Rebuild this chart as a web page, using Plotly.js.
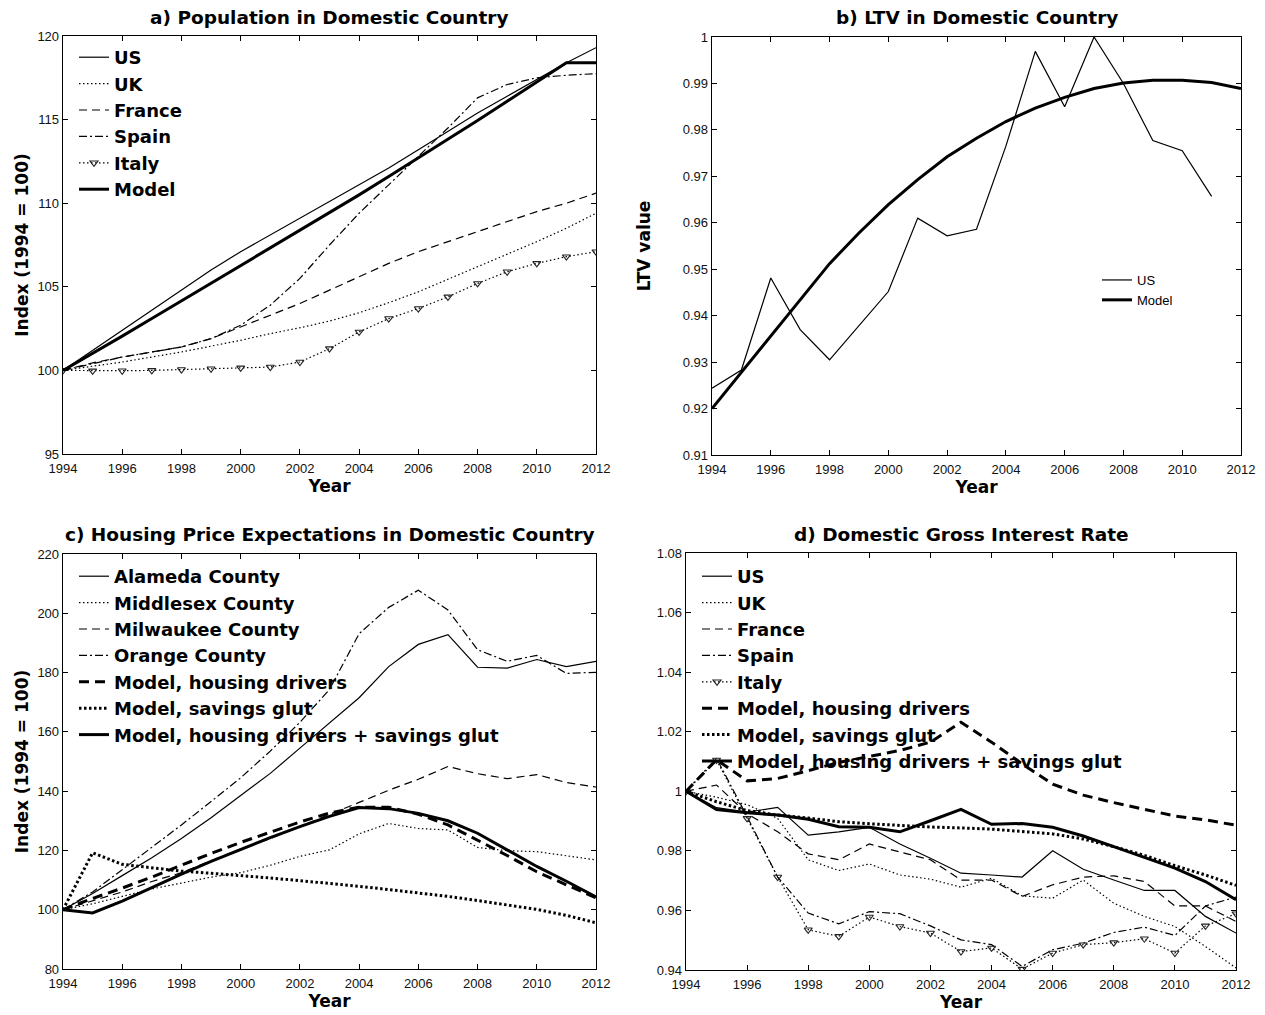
<!DOCTYPE html>
<html>
<head>
<meta charset="utf-8">
<script src="https://cdn.plot.ly/plotly-3.0.1.min.js"></script>
<style>
  html, body { margin: 0; padding: 0; background: #ffffff; }
  #chart { width: 1265px; height: 1015px; }
</style>
</head>
<body>
<div id="chart"></div>
<script>
// ---- data ----
const years = [1994, 1995, 1996, 1997, 1998, 1999, 2000, 2001, 2002, 2003,
               2004, 2005, 2006, 2007, 2008, 2009, 2010, 2011, 2012];

// a) population index (1994 = 100)
const popUS     = [100, 101.2, 102.4, 103.6, 104.8, 106.0, 107.1, 108.1, 109.1, 110.1, 111.1, 112.1, 113.2, 114.3, 115.4, 116.4, 117.4, 118.4, 119.3];
const popUK     = [100, 100.25, 100.5, 100.8, 101.1, 101.45, 101.8, 102.2, 102.55, 102.95, 103.45, 104.05, 104.7, 105.45, 106.2, 106.95, 107.7, 108.5, 109.4];
const popFrance = [100, 100.45, 100.8, 101.1, 101.4, 101.9, 102.6, 103.3, 104.0, 104.8, 105.6, 106.4, 107.1, 107.7, 108.3, 108.9, 109.5, 110.0, 110.6];
const popSpain  = [100, 100.4, 100.8, 101.1, 101.4, 101.9, 102.7, 103.9, 105.5, 107.5, 109.4, 111.1, 112.8, 114.5, 116.3, 117.1, 117.5, 117.65, 117.75];
const popItaly  = [100, 99.97, 99.98, 100.0, 100.05, 100.1, 100.15, 100.2, 100.5, 101.3, 102.3, 103.1, 103.7, 104.4, 105.2, 105.9, 106.4, 106.8, 107.1];
const popModel  = [100, 101.0, 102.05, 103.1, 104.15, 105.2, 106.25, 107.3, 108.35, 109.4, 110.5, 111.6, 112.7, 113.8, 114.95, 116.1, 117.25, 118.4, 118.4];

// b) loan-to-value
const ltvUS    = [0.9244, 0.9283, 0.9481, 0.9370, 0.9305, 0.9378, 0.9452, 0.9610, 0.9572, 0.9586, 0.9765, 0.9969, 0.9850, 1.0000, 0.9900, 0.9777, 0.9755, 0.9657];
const ltvModel = [0.9200, 0.9278, 0.9358, 0.9436, 0.9512, 0.9578, 0.9639, 0.9693, 0.9742, 0.9782, 0.9818, 0.9847, 0.9870, 0.9889, 0.9901, 0.9907, 0.9907, 0.9902, 0.9889];

// c) housing price expectations (1994 = 100)
const hpAlameda      = [100, 105.5, 111.5, 117.5, 124, 131, 138.5, 146, 154.5, 163, 171.5, 182, 189.5, 192.8, 181.8, 181.5, 184.4, 182, 183.8];
const hpMiddlesex    = [100, 102, 104.5, 107, 109, 111, 112.5, 115, 118, 120.2, 125.6, 129.1, 127.4, 126.9, 121, 119.9, 119.6, 118.2, 116.8];
const hpMilwaukee    = [100, 103, 106, 109.5, 112.5, 116.5, 120.5, 124, 128, 132, 136.2, 140.3, 144, 148.3, 145.9, 144.2, 145.6, 142.9, 141.4];
const hpOrange       = [100, 106, 113.5, 121, 128.6, 136.5, 144.5, 153.5, 163.2, 174.3, 193.1, 202, 207.8, 201.1, 187.7, 183.8, 185.8, 179.7, 180.1];
const hpModelHousing = [100, 103.8, 107.3, 111, 115, 119, 122.7, 126.2, 129.6, 132.6, 134.6, 134.6, 132.2, 128.6, 123.5, 118.3, 112.8, 108.3, 104];
const hpModelGlut    = [100, 119.2, 115.3, 114.1, 113, 112.3, 111.6, 110.7, 109.8, 108.9, 107.9, 106.8, 105.7, 104.5, 103.1, 101.7, 100.1, 98.1, 95.6];
const hpModelBoth    = [100, 98.9, 102.9, 107.5, 112, 116.3, 120.3, 124.3, 128, 131.5, 134.5, 134.1, 132.5, 130, 125.8, 120.3, 114.6, 109.6, 104.3];

// d) gross interest rate
const irUS           = [1.0, 0.9945, 0.9930, 0.9946, 0.9853, 0.9864, 0.9879, 0.9823, 0.9775, 0.9725, 0.9719, 0.9712, 0.9800, 0.9738, 0.9702, 0.9667, 0.9667, 0.9580, 0.9524];
const irUK           = [1.0, 0.9980, 0.9955, 0.9909, 0.9770, 0.9734, 0.9756, 0.9719, 0.9705, 0.9678, 0.9708, 0.9649, 0.9641, 0.9702, 0.9624, 0.9580, 0.9546, 0.9479, 0.9407];
const irFrance       = [1.0, 1.0021, 0.9925, 0.9864, 0.9790, 0.9770, 0.9823, 0.9797, 0.9770, 0.9702, 0.9702, 0.9647, 0.9686, 0.9712, 0.9716, 0.9697, 0.9615, 0.9615, 0.9563];
const irSpain        = [1.0, 1.0111, 0.9915, 0.9712, 0.9591, 0.9555, 0.9596, 0.9589, 0.9548, 0.9501, 0.9485, 0.9412, 0.9468, 0.9490, 0.9526, 0.9544, 0.9516, 0.9615, 0.9645];
const irItaly        = [1.0, 1.0105, 0.9909, 0.9712, 0.9535, 0.9513, 0.9578, 0.9546, 0.9524, 0.9462, 0.9474, 0.9403, 0.9457, 0.9485, 0.9492, 0.9505, 0.9457, 0.9548, 0.9589];
const irModelHousing = [1.0, 1.0106, 1.0035, 1.0043, 1.0069, 1.0097, 1.0117, 1.0137, 1.0165, 1.0232, 1.0165, 1.0092, 1.0024, 0.9987, 0.9962, 0.9940, 0.9917, 0.9904, 0.9886];
const irModelGlut    = [1.0, 0.9965, 0.9935, 0.9920, 0.9910, 0.9898, 0.9891, 0.9885, 0.9880, 0.9877, 0.9873, 0.9865, 0.9857, 0.9840, 0.9814, 0.9785, 0.9750, 0.9719, 0.9684];
const irModelBoth    = [1.0, 0.9939, 0.9928, 0.9920, 0.9906, 0.9881, 0.9879, 0.9864, 0.9901, 0.9939, 0.9889, 0.9892, 0.9879, 0.9850, 0.9814, 0.9779, 0.9742, 0.9697, 0.9636];

// ---- styles ----
const FONT = 'Liberation Sans, Arial, Helvetica, sans-serif';
const BOLDFONT = 'DejaVu Sans, Liberation Sans, Arial, sans-serif';
const INK = '#000000';
const thinW = 1.2, thickW = 3;
const DOT_THIN = '1.5px,2.5px';
const DASH_THIN = '8px,5px';
const DASHDOT_THIN = '8px,3px,2px,3px';
const DASH_THICK = '10px,6px';
const DOT_THICK = '2.5px,2.5px';

function line(x, y, name, width, dash, axes, legend, extra) {
  const t = {
    type: 'scatter', mode: 'lines', x: x, y: y, name: name,
    xaxis: axes[0], yaxis: axes[1], legend: legend,
    line: { color: INK, width: width, dash: dash || 'solid' }
  };
  return Object.assign(t, extra || {});
}
const italyMarker = { mode: 'lines+markers',
  marker: { symbol: 'triangle-down-open', size: 7, color: '#222', line: { width: 1.1, color: '#222' } } };

const A = ['x', 'y'], B = ['x2', 'y2'], C = ['x3', 'y3'], D = ['x4', 'y4'];

const traces = [
  // a)
  line(years, popUS, 'US', thinW, 'solid', A, 'legend'),
  line(years, popUK, 'UK', thinW, DOT_THIN, A, 'legend'),
  line(years, popFrance, 'France', thinW, DASH_THIN, A, 'legend'),
  line(years, popSpain, 'Spain', thinW, DASHDOT_THIN, A, 'legend'),
  line(years, popItaly, 'Italy', thinW, DOT_THIN, A, 'legend', italyMarker),
  line(years, popModel, 'Model', thickW, 'solid', A, 'legend'),
  // b)
  line(years.slice(0, ltvUS.length), ltvUS, 'US', thinW, 'solid', B, 'legend2'),
  line(years, ltvModel, 'Model', thickW, 'solid', B, 'legend2'),
  // c)
  line(years, hpAlameda, 'Alameda County', thinW, 'solid', C, 'legend3'),
  line(years, hpMiddlesex, 'Middlesex County', thinW, DOT_THIN, C, 'legend3'),
  line(years, hpMilwaukee, 'Milwaukee County', thinW, DASH_THIN, C, 'legend3'),
  line(years, hpOrange, 'Orange County', thinW, DASHDOT_THIN, C, 'legend3'),
  line(years, hpModelHousing, 'Model, housing drivers', thickW, DASH_THICK, C, 'legend3'),
  line(years, hpModelGlut, 'Model, savings glut', thickW, DOT_THICK, C, 'legend3'),
  line(years, hpModelBoth, 'Model, housing drivers + savings glut', thickW, 'solid', C, 'legend3'),
  // d)
  line(years, irUS, 'US', thinW, 'solid', D, 'legend4'),
  line(years, irUK, 'UK', thinW, DOT_THIN, D, 'legend4'),
  line(years, irFrance, 'France', thinW, DASH_THIN, D, 'legend4'),
  line(years, irSpain, 'Spain', thinW, DASHDOT_THIN, D, 'legend4'),
  line(years, irItaly, 'Italy', thinW, DOT_THIN, D, 'legend4', italyMarker),
  line(years, irModelHousing, 'Model, housing drivers', thickW, DASH_THICK, D, 'legend4'),
  line(years, irModelGlut, 'Model, savings glut', thickW, DOT_THICK, D, 'legend4'),
  line(years, irModelBoth, 'Model, housing drivers + savings glut', thickW, 'solid', D, 'legend4')
];

// ---- layout ----
const W = 1265, H = 1015;
const px = v => v / W;
const py = v => 1 - v / H;

function xAxis(l, r, anchor) {
  return {
    domain: [px(l), px(r)], anchor: anchor, range: [1994, 2012],
    tick0: 1994, dtick: 2, ticks: 'inside', ticklen: 5, tickwidth: 1, tickcolor: INK,
    showline: true, linecolor: INK, linewidth: 1.3, mirror: 'ticks',
    showgrid: false, zeroline: false, ticklabelstandoff: 2,
    tickfont: { family: FONT, size: 13, color: '#111' },
    title: { text: 'Year', font: { family: BOLDFONT, size: 17, color: INK, weight: 'bold' }, standoff: 4 }
  };
}
function yAxis(t, b, anchor, range, dtick, titleText, standoff) {
  const ax = {
    domain: [py(b), py(t)], anchor: anchor, range: range, dtick: dtick, tick0: range[0],
    ticks: 'inside', ticklen: 5, tickwidth: 1, tickcolor: INK,
    showline: true, linecolor: INK, linewidth: 1.3, mirror: 'ticks',
    showgrid: false, zeroline: false,
    tickfont: { family: FONT, size: 13, color: '#111' }
  };
  if (titleText) ax.title = { text: titleText, font: { family: BOLDFONT, size: 17, color: INK, weight: 'bold' }, standoff: standoff };
  return ax;
}
function legendAt(x, y, size, bold) {
  return {
    x: px(x), y: py(y), xanchor: 'left', yanchor: 'top',
    bgcolor: 'rgba(0,0,0,0)', borderwidth: 0, tracegroupgap: 0,
    font: bold ? { family: BOLDFONT, size: size, color: INK, weight: 'bold' }
               : { family: FONT, size: size, color: INK }
  };
}
function panelTitle(text, l, r, y) {
  return {
    text: text, xref: 'paper', yref: 'paper', x: px((l + r) / 2), y: py(y),
    xanchor: 'center', yanchor: 'middle', showarrow: false,
    font: { family: BOLDFONT, size: 18.5, color: INK, weight: 'bold' }
  };
}

const layout = {
  width: W, height: H,
  margin: { l: 0, r: 0, t: 0, b: 0 },
  paper_bgcolor: '#ffffff', plot_bgcolor: '#ffffff',
  font: { family: FONT, color: INK },
  showlegend: true,
  xaxis:  xAxis(63, 596, 'y'),
  yaxis:  yAxis(36, 454, 'x', [95, 120], 5, 'Index (1994 = 100)', 4),
  xaxis2: xAxis(712, 1241, 'y2'),
  yaxis2: yAxis(37, 455, 'x2', [0.91, 1], 0.01, 'LTV value', 27),
  xaxis3: xAxis(63, 596, 'y3'),
  yaxis3: yAxis(554, 969, 'x3', [80, 220], 20, 'Index (1994 = 100)', 4),
  xaxis4: xAxis(686, 1236, 'y4'),
  yaxis4: yAxis(553, 970, 'x4', [0.94, 1.08], 0.02, null, 0),
  legend:  legendAt(74, 39, 18, true),
  legend2: legendAt(1097, 265, 13, false),
  legend3: legendAt(74, 558, 18, true),
  legend4: legendAt(697, 558, 18, true),
  annotations: [
    panelTitle('a) Population in Domestic Country', 63, 596, 17),
    panelTitle('b) LTV in Domestic Country', 712, 1241, 17),
    panelTitle('c) Housing Price Expectations in Domestic Country', 63, 596, 534),
    panelTitle('d) Domestic Gross Interest Rate', 686, 1236, 534)
  ]
};

Plotly.newPlot('chart', traces, layout, { displayModeBar: false, staticPlot: true });
</script>
</body>
</html>
